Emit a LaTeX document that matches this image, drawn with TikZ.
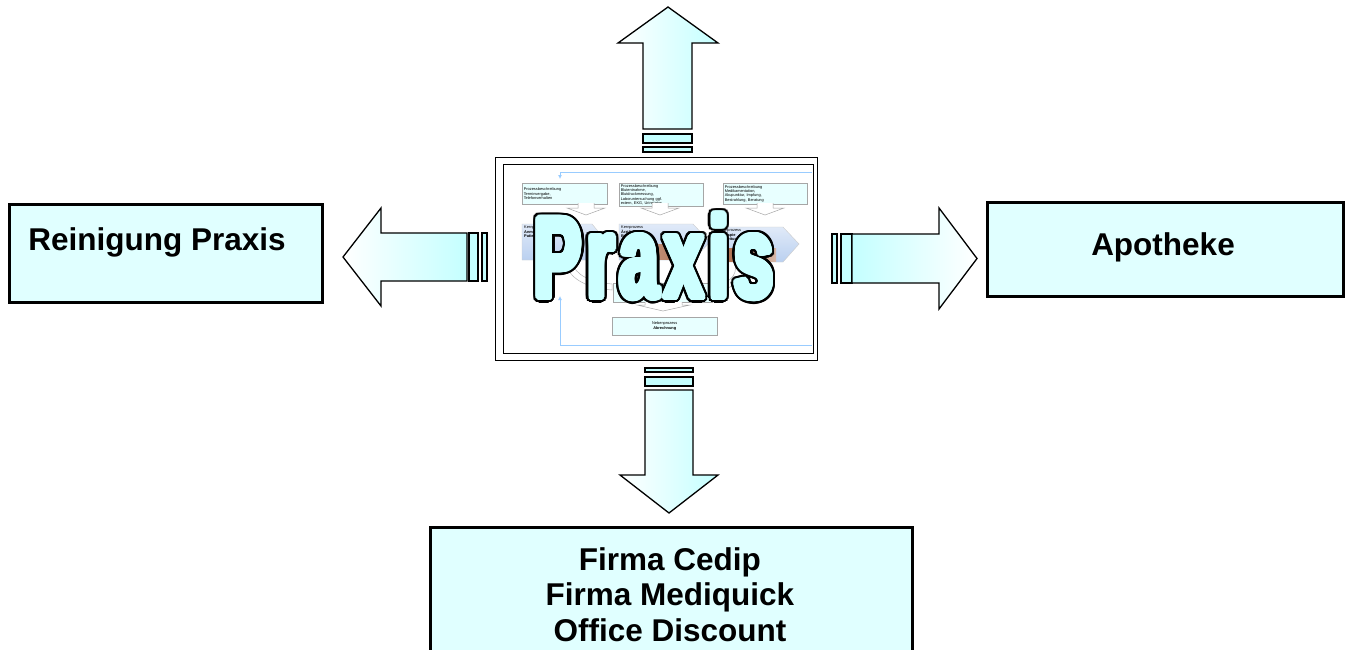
\documentclass[tikz,border=0pt]{standalone}
\usepackage{fontspec}
\setmainfont{Liberation Sans}
\newfontfamily\praxisfont{Liberation Sans}[UprightFont=* Bold, FakeStretch=0.608, LetterSpace=5]
\usetikzlibrary{arrows.meta}
\definecolor{boxfill}{RGB}{224,255,255}
\definecolor{arrowcyan}{RGB}{196,255,255}
\definecolor{praxfill}{RGB}{204,255,255}
\definecolor{flowblue}{RGB}{153,204,255}
\definecolor{miniboxfill}{RGB}{232,255,255}
\definecolor{chev}{RGB}{186,208,240}
\definecolor{photo}{RGB}{176,112,80}
\tikzset{
  outerbox/.style={draw=black, fill=boxfill, line width=2.6pt, inner sep=0pt, anchor=north west},
  boxlabel/.style={font=\fontsize{31.5}{35.5}\selectfont\bfseries, inner sep=0pt, text=black},
  blockarrow/.style={draw=black, line width=1.3pt, line join=miter},
  stripe/.style={draw=black, line width=1.3pt, fill=arrowcyan},
  miniboxst/.style={draw=gray!70, fill=miniboxfill, line width=0.5pt, anchor=north west,
     font=\fontsize{3.9}{4.2}\selectfont, align=left, inner sep=1.5pt},
  minitext/.style={font=\fontsize{3.9}{4.2}\selectfont, align=left, inner sep=0pt, anchor=north west},
  chevst/.style={draw=gray!40, line width=0.4pt, top color=chev!45!white, bottom color=chev},
  flow/.style={flowblue, line width=1pt},
  praxst/.style={inner sep=0pt, anchor=base, font=\praxisfont\fontsize{115}{115}\selectfont},
  mdown/.pic={\draw[gray!70, fill=white, line width=0.5pt] (-8,-1) -- (-8,4) -- (-19,4) -- (0,11) -- (19,4) -- (8,4) -- (8,-1);}
}
\begin{document}
\begin{tikzpicture}[x=1pt,y=-1pt]
\useasboundingbox (0,0) rectangle (1350,649);
\clip (0,0) rectangle (1350,649);

% ---- outer boxes ----
\node[outerbox, minimum width=313pt, minimum height=98pt] (reinigung) at (8,203) {};
\node[boxlabel, anchor=base] (reinigungtext) at (157,250) {Reinigung Praxis};

\node[outerbox, minimum width=356pt, minimum height=94pt] (apotheke) at (986,201) {};
\node[boxlabel, anchor=base] (apothekentext) at (1163,255) {Apotheke};

\node[outerbox, minimum width=482pt, minimum height=160pt] (firmen) at (429,526) {};
\node[boxlabel, align=center, anchor=north] (firmentext) at (670,547) {Firma Cedip\\Firma Mediquick\\Office Discount};

% ---- block arrows ----
% up
\draw[blockarrow, left color=white, right color=arrowcyan] (643,129) -- (643,43) -- (618,43) -- (668,7) -- (718,43) -- (692,43) -- (692,129) -- cycle;
\draw[stripe] (643,134) rectangle (692,143);
\draw[stripe] (643,147) rectangle (692,152);
% down
\draw[stripe] (645,368) rectangle (693,372);
\draw[stripe] (645,377) rectangle (693,386);
\draw[blockarrow, left color=white, right color=arrowcyan] (645,390) -- (645,475) -- (620,475) -- (669,513) -- (718,475) -- (693,475) -- (693,390) -- cycle;
% left
\draw[blockarrow, left color=white, right color=arrowcyan] (467,233) -- (381,233) -- (381,208) -- (343,257) -- (381,306) -- (381,281) -- (467,281) -- cycle;
\draw[stripe] (469,233) rectangle (478,281);
\draw[stripe] (482,233) rectangle (487,281);
% right
\draw[stripe] (832,234) rectangle (837,283);
\draw[stripe] (841,234) rectangle (852,283);
\draw[blockarrow, left color=arrowcyan, right color=white] (852,234) -- (939,234) -- (939,208) -- (977,258.5) -- (939,309) -- (939,283) -- (852,283) -- cycle;

% ---- central picture frame ----
\node[draw=black, fill=white, line width=1.3pt, minimum width=322pt, minimum height=203pt, inner sep=0pt, anchor=north west] (frameouter) at (495,157) {};
\node[draw=black, line width=1.3pt, minimum width=310pt, minimum height=189pt, inner sep=0pt, anchor=north west] (frameinner) at (503,164) {};

% feedback lines
\coordinate (fbtopr) at (812,172);
\coordinate (fbtopl) at (560,172);
\coordinate (fbtopend) at (560,179);
\draw[flow, -{Latex[length=4pt,width=4pt]}] (fbtopr) -- (fbtopl) -- (fbtopend);
\coordinate (fbbotr) at (812,345);
\coordinate (fbbotl) at (560,345);
\coordinate (fbbotend) at (560,296);
\draw[flow, -{Latex[length=4pt,width=4pt]}] (fbbotr) -- (fbbotl) -- (fbbotend);

% description boxes
\node[miniboxst, minimum width=85pt, minimum height=21pt, text width=82pt] (pb1) at (522,183)
  {Prozessbeschreibung\\Terminvergabe,\\Telefonverhalten};
\node[miniboxst, minimum width=84pt, minimum height=21pt, text width=81pt] (pb2) at (619,183)
  {Prozessbeschreibung\\Blutentnahme,\\Blutdruckmessung,\\Laboruntersuchung ggf.\\extern, EKG, Urinstatus};
\node[miniboxst, minimum width=84pt, minimum height=21pt, text width=81pt] (pb3) at (723,183)
  {Prozessbeschreibung\\Medikamentation,\\Akupunktur, Impfung,\\Bestrahlung, Beratung};
\pic at (586,204) {mdown};
\pic at (660,204) {mdown};
\pic at (765,204) {mdown};

% chevrons
\draw[chevst] (522,224) -- (592,224) -- (607,242) -- (592,260) -- (522,260) -- cycle;
\draw[chevst] (619,224) -- (693,224) -- (710,242) -- (693,260) -- (619,260) -- cycle;
\draw[chevst] (717,227) -- (783,227) -- (799,244) -- (783,262) -- (717,262) -- cycle;
\shade[left color=photo!60!white, right color=photo] (624,244) rectangle (690,259);
\shade[left color=photo, right color=photo!50!white] (727,248) rectangle (776,261);
\node[minitext] (k1) at (524,226) {Kernprozess\\\textbf{Anmeldung}\\\textbf{Patienten}};
\node[minitext] (k2) at (621,226) {Kernprozess\\\textbf{Ärztliche}\\\textbf{Behandlung}};
\node[minitext] (k3) at (719,229) {Kernprozess\\\textbf{Therapie}\\\textbf{Begleitung}};

% connectors to middle
\draw[gray!60, line width=0.5pt, fill=white] (572,262) .. controls (575,275) and (590,282) .. (612,284) -- (612,290) .. controls (588,288) and (572,280) .. (566,266) -- cycle;
\draw[gray!60, line width=0.5pt, fill=white] (735,264) .. controls (738,276) and (728,284) .. (712,286) -- (712,292) .. controls (732,290) and (744,280) .. (742,266) -- cycle;
\node[miniboxst, minimum width=99pt, minimum height=19pt, text width=96pt, align=center] (kp4) at (613,283) {Kernprozess\\\textbf{Diagnose}};
\draw[gray!70, fill=white, line width=0.5pt] (645,302) -- (645,305) -- (637,305) -- (663,311) -- (690,305) -- (682,305) -- (682,302);

\node[miniboxst, minimum width=105pt, minimum height=18pt, text width=102pt, align=center] (neben) at (612,317) {Nebenprozess\\[1pt]\textbf{Abrechnung}};

% big title: black outline, light cyan body
\foreach \a in {0,10,...,350} {
  \node[praxst, text=black] at ([shift={(\a:5.5)}]654,297.5) {Praxis};
  \node[praxst, text=black] at ([shift={(\a:3.5)}]654,297.5) {Praxis};
}
\foreach \a in {0,12,...,348} {
  \node[praxst, text=praxfill] at ([shift={(\a:3)}]654,297.5) {Praxis};
  \node[praxst, text=praxfill] at ([shift={(\a:1.5)}]654,297.5) {Praxis};
}
\node[praxst, text=praxfill] (praxis) at (654,297.5) {Praxis};
\end{tikzpicture}
\end{document}
